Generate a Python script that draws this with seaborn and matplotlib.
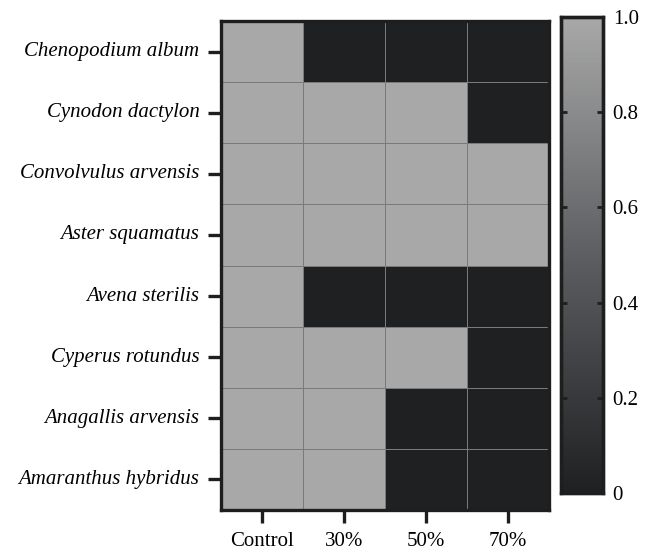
import matplotlib
matplotlib.use("Agg")
import matplotlib.pyplot as plt
import numpy as np
import pandas as pd
import seaborn as sns
from matplotlib.colors import LinearSegmentedColormap
from matplotlib.ticker import FixedLocator

species = ["Chenopodium album", "Cynodon dactylon", "Convolvulus arvensis",
           "Aster squamatus", "Avena sterilis", "Cyperus rotundus",
           "Anagallis arvensis", "Amaranthus hybridus"]
treatments = ["Control", "30%", "50%", "70%"]
control = [1, 1, 1, 1, 1, 1, 1, 1]
pct30 = [0, 1, 1, 1, 0, 1, 1, 1]
pct50 = [0, 1, 1, 1, 0, 1, 0, 0]
pct70 = [0, 0, 1, 1, 0, 0, 0, 0]
cbar_ticks = [0, 0.2, 0.4, 0.6, 0.8, 1.0]
cbar_labels = ["0", "0.2", "0.4", "0.6", "0.8", "1.0"]

df = pd.DataFrame({"Control": control, "30%": pct30, "50%": pct50, "70%": pct70},
                  index=species)

plt.rcParams['font.family'] = ['Liberation Serif', 'DejaVu Serif']
cmap = LinearSegmentedColormap.from_list("g", ["#1f2022", "#5c5e61", "#a8a8a8"])

fig = plt.figure(figsize=(6.54, 5.52), dpi=100)
W, H = 654, 552
ax = fig.add_axes([221 / W, (H - 510) / H, 328 / W, 489 / H])
cax = fig.add_axes([561 / W, (H - 493) / H, 42 / W, 476 / H])

sns.heatmap(df, ax=ax, cbar_ax=cax, cmap=cmap, vmin=0, vmax=1,
            linewidths=0.6, linecolor="#7a7a7a")

for s in ax.spines.values():
    s.set_visible(True)
    s.set_linewidth(2.4)
    s.set_color("#1e1e1e")
ax.tick_params(axis="both", length=9.5, width=2.4, color="#1e1e1e", labelsize=15, pad=6)
ax.set_yticklabels(species, rotation=0, fontstyle="italic")
ax.set_xticklabels(treatments, rotation=0)
ax.set_xlabel("")
ax.set_ylabel("")

cax.yaxis.set_major_locator(FixedLocator(cbar_ticks))
cax.set_yticklabels(cbar_labels)
cax.tick_params(axis="y", direction="in", left=True, right=True, length=4.5, width=2,
                color="#1e1e1e", labelsize=15, pad=7)
for s in cax.spines.values():
    s.set_visible(True)
    s.set_linewidth(2.4)
    s.set_color("#1e1e1e")
cax.set_frame_on(True)

fig.savefig("out.png", dpi=100)
